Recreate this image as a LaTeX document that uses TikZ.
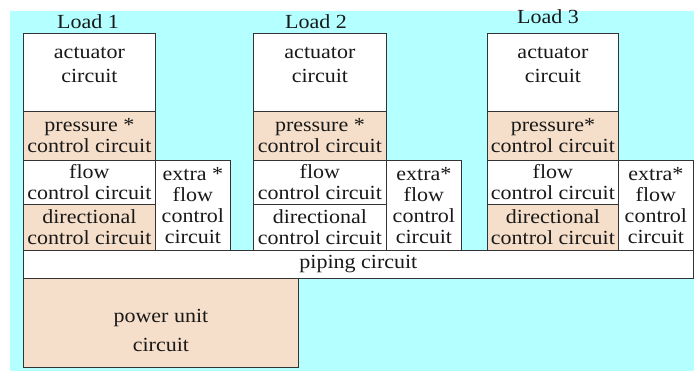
\documentclass[tikz,border=0pt]{standalone}
\usepackage{fontspec}
\setmainfont{Liberation Serif}[FakeStretch=1.1]

\definecolor{bgcyan}{RGB}{180,255,255}
\definecolor{peach}{RGB}{246,223,202}

\tikzset{
  box/.style={draw=black!80, line width=0.8pt, anchor=north west, inner sep=0pt,
    align=center, text=black!90, font=\fontsize{20}{21}\selectfont},
  txt/.style={inner sep=0pt, align=center, text=black!90,
    font=\fontsize{20}{21}\selectfont},
}

\begin{document}
\begin{tikzpicture}[x=1pt, y=-1pt]
  \useasboundingbox (0,0) rectangle (694,371);
  \fill[white] (0,0) rectangle (694,371);
  \fill[bgcyan] (10,11) rectangle (694,371);

  % load 1
  \node[txt] (load1) at (88,22) {Load 1};
  \node[box, fill=white, minimum width=132pt, minimum height=78pt] (act1) at (23,33) {};
  \node[txt] (act1txt) at ([yshift=7pt]act1.center) {actuator\\[3pt]circuit};
  \node[box, fill=peach, minimum width=132pt, minimum height=49pt] (pres1) at (23,111) {pressure *\\control circuit};
  \node[box, fill=white, minimum width=132pt, minimum height=44pt] (flow1) at (23,160) {flow\\control circuit};
  \node[box, fill=peach, minimum width=132pt, minimum height=46pt] (dir1) at (23,204) {directional\\control circuit};
  \node[box, fill=white, minimum width=75pt, minimum height=90pt] (extra1) at (155,160) {extra *\\flow\\control\\circuit};

  % load 2
  \node[txt] (load2) at (316,22) {Load 2};
  \node[box, fill=white, minimum width=133pt, minimum height=78pt] (act2) at (253,33) {};
  \node[txt] (act2txt) at ([yshift=7pt]act2.center) {actuator\\[3pt]circuit};
  \node[box, fill=peach, minimum width=133pt, minimum height=49pt] (pres2) at (253,111) {pressure *\\control circuit};
  \node[box, fill=white, minimum width=133pt, minimum height=44pt] (flow2) at (253,160) {flow\\control circuit};
  \node[box, fill=white, minimum width=133pt, minimum height=46pt] (dir2) at (253,204) {directional\\control circuit};
  \node[box, fill=white, minimum width=75pt, minimum height=90pt] (extra2) at (386,160) {extra*\\flow\\control\\circuit};

  % load 3
  \node[txt] (load3) at (548,17) {Load 3};
  \node[box, fill=white, minimum width=131pt, minimum height=78pt] (act3) at (487,33) {};
  \node[txt] (act3txt) at ([yshift=7pt]act3.center) {actuator\\[3pt]circuit};
  \node[box, fill=peach, minimum width=131pt, minimum height=49pt] (pres3) at (487,111) {pressure*\\control circuit};
  \node[box, fill=white, minimum width=131pt, minimum height=44pt] (flow3) at (487,160) {flow\\control circuit};
  \node[box, fill=peach, minimum width=131pt, minimum height=46pt] (dir3) at (487,204) {directional\\control circuit};
  \node[box, fill=white, minimum width=75pt, minimum height=90pt] (extra3) at (618,160) {extra*\\flow\\control\\circuit};

  % common parts
  \node[box, fill=white, minimum width=670pt, minimum height=28pt] (piping) at (23,250) {piping circuit};
  \node[box, fill=peach, minimum width=275pt, minimum height=89pt] (power) at (23,278) {};
  \node[txt] (powertxt) at ([yshift=-8pt]power.center) {power unit\\[8pt]circuit};
\end{tikzpicture}
\end{document}
